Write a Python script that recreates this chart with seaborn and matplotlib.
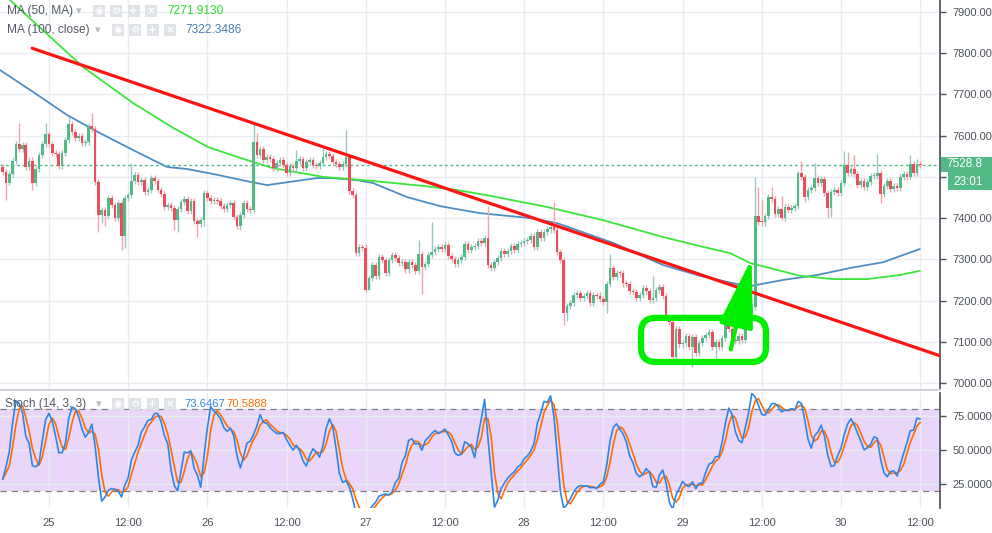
import numpy as np
import pandas as pd
import matplotlib
matplotlib.use("Agg")
import matplotlib.pyplot as plt
from matplotlib.patches import FancyBboxPatch, Rectangle
import seaborn as sns

# 30 min candles, 24th 17:00 -> 30th 11:30 (bar 0 = 24th 17:00)
first_open = 7524
closes = [
    7512, 7485, 7507, 7539, 7580, 7568, 7577, 7524, 7539, 7485,
    7519, 7553, 7580, 7604, 7580, 7558, 7555, 7526, 7558, 7589,
    7628, 7609, 7594, 7599, 7582, 7585, 7623, 7616, 7488, 7407,
    7420, 7405, 7449, 7432, 7400, 7437, 7357, 7449, 7456, 7490,
    7505, 7488, 7492, 7463, 7468, 7497, 7490, 7468, 7458, 7427,
    7432, 7424, 7395, 7422, 7439, 7446, 7417, 7441, 7393, 7386,
    7395, 7461, 7449, 7441, 7444, 7441, 7429, 7422, 7432, 7437,
    7403, 7381, 7407, 7437, 7422, 7420, 7585, 7553, 7568, 7541,
    7548, 7543, 7522, 7534, 7541, 7529, 7509, 7526, 7522, 7539,
    7543, 7522, 7536, 7541, 7529, 7526, 7534, 7548, 7555, 7551,
    7536, 7531, 7524, 7531, 7548, 7466, 7456, 7315, 7330, 7328,
    7226, 7255, 7286, 7260, 7306, 7298, 7267, 7298, 7310, 7303,
    7291, 7293, 7276, 7293, 7286, 7272, 7313, 7281, 7289, 7310,
    7318, 7325, 7330, 7325, 7335, 7308, 7301, 7289, 7298, 7306,
    7337, 7323, 7330, 7332, 7344, 7340, 7352, 7286, 7279, 7293,
    7303, 7320, 7313, 7320, 7332, 7323, 7337, 7340, 7344, 7347,
    7357, 7330, 7366, 7352, 7366, 7373, 7378, 7371, 7318, 7298,
    7170, 7187, 7194, 7213, 7218, 7206, 7211, 7218, 7194, 7213,
    7212, 7204, 7196, 7240, 7279, 7257, 7267, 7266, 7242, 7240,
    7223, 7221, 7206, 7213, 7230, 7223, 7201, 7206, 7226, 7233,
    7211, 7158, 7148, 7063, 7131, 7094, 7097, 7114, 7087, 7112,
    7073, 7097, 7109, 7116, 7124, 7087, 7099, 7087, 7109, 7146,
    7131, 7104, 7102, 7114, 7104, 7141, 7170, 7184, 7405, 7391,
    7390, 7405, 7451, 7446, 7410, 7422, 7400, 7427, 7420, 7424,
    7429, 7509, 7500, 7451, 7468, 7473, 7497, 7485, 7495, 7461,
    7424, 7463, 7468, 7461, 7485, 7529, 7509, 7519, 7507, 7480,
    7490, 7475, 7488, 7502, 7503, 7509, 7458, 7478, 7490, 7471,
    7478, 7473, 7500, 7507, 7500, 7531, 7509, 7531, 7528.8,
]
# long wicks that stand out (bar -> price)
wick_highs = {5: 7631, 13: 7631, 20: 7645, 27: 7655, 39: 7534, 76: 7631, 77: 7606,
              89: 7565, 97: 7570, 104: 7614, 126: 7347, 130: 7391, 147: 7430,
              167: 7440, 184: 7313, 197: 7260, 228: 7500, 229: 7475, 230: 7444,
              233: 7475, 236: 7454, 241: 7514, 242: 7539, 246: 7534, 255: 7563,
              256: 7560, 258: 7553, 265: 7555, 275: 7553, 277: 7543}
wick_lows = {1: 7444, 2: 7480, 9: 7468, 29: 7366, 30: 7388, 31: 7381, 36: 7323,
             37: 7328, 52: 7371, 53: 7366, 59: 7355, 61: 7380, 72: 7371, 110: 7221,
             111: 7235, 127: 7215, 170: 7141, 171: 7150, 183: 7170, 203: 7051,
             209: 7040, 216: 7052, 229: 7383, 236: 7395, 243: 7439, 250: 7400,
             251: 7403, 266: 7437}

ma50_bars = [2.2, 24.4, 39.5, 51.6, 62.3, 72, 81.9, 97.1, 112.2, 127.4, 137.7, 147.7,
             164.9, 181.9, 200.1, 211.3, 220.4, 226.5, 241.6, 251.6, 261.9, 271.9, 277.9]
ma50_vals = [7929, 7766, 7679, 7619, 7572, 7546, 7521, 7500, 7490, 7478, 7468, 7454,
             7427, 7395, 7354, 7332, 7315, 7291, 7260, 7252, 7252, 7262, 7272]
ma100_bars = [-0.8, 9.2, 19.5, 29.5, 39.5, 49.8, 55.9, 65, 74.9, 80.1, 87.1, 95.2, 100.1,
              107.4, 112.2, 122.5, 132.5, 144.6, 159.8, 167.9, 184.9, 200.1, 211.3,
              221.3, 226.5, 236.5, 246.8, 256.8, 266.8, 277.9]
ma100_vals = [7759, 7706, 7650, 7606, 7565, 7524, 7519, 7505, 7488, 7480, 7488, 7497, 7497,
              7492, 7485, 7451, 7429, 7412, 7400, 7388, 7340, 7286, 7260,
              7242, 7235, 7250, 7262, 7279, 7293, 7325]

trend_bars = [8.9, 284.0]
trend_vals = [7812, 7066]
box_bars = [193.4, 231.3]
box_vals = [7051, 7158]
arrow_from = (220.4, 7075)
arrow_to = (227.1, 7308)

day_ticks = [14, 38, 62, 86, 110, 134, 158, 182, 206, 230, 254, 278]
day_labels = ["25", "12:00", "26", "12:00", "27", "12:00", "28", "12:00",
              "29", "12:00", "30", "12:00"]
price_ticks = [7000, 7100, 7200, 7300, 7400, 7500, 7600, 7700, 7800, 7900]
hidden_price_tick = 7500  # sits under the last-price tag in the chart
stoch_ticks = [25, 50, 75]

last_price = "7528.8"
countdown = "23:01"
ma50_name, ma50_value = "MA (50, MA)", "7271.9130"
ma100_name, ma100_value = "MA (100, close)", "7322.3486"
stoch_name, stoch_k_value, stoch_d_value = "Stoch (14, 3, 3)", "73.6467", "70.5888"

# colours
up_col, dn_col = "#53b987", "#eb4d5c"
up_wick, dn_wick = "#9fc4c6", "#f2a3ab"
ma50_col, ma100_col = "#3be63b", "#4f8ec4"
k_col, d_col = "#2f86e6", "#ff6d00"
mark_col = "#00ee00"
txt_col = "#4c525e"

sns.set_theme(style="white")
plt.rcParams["font.family"] = ["Liberation Sans", "DejaVu Sans"]

W, H = 992, 533
fig = plt.figure(figsize=(W / 100, H / 100), dpi=100)
ax = fig.add_axes([0, 1 - 390 / H, 940 / W, 390 / H])
ax2 = fig.add_axes([0, 25 / H, 940 / W, 115 / H])


def fx(px):
    return px / W


def fy(py):
    return 1 - py / H


# candles
c = np.array(closes, dtype=float)
o = np.r_[first_open, c[:-1]]
bars = np.arange(len(c))
top = np.maximum(o, c)
bot = np.minimum(o, c)
wick_pad = 8
hi = top + wick_pad
lo = bot - wick_pad
for i, v in wick_highs.items():
    hi[i] = max(v, top[i])
for i, v in wick_lows.items():
    lo[i] = min(v, bot[i])
up = c >= o
body = np.maximum(top - bot, 2.5)

ax.vlines(bars[up], lo[up], hi[up], color=up_wick, lw=1.0, zorder=3)
ax.vlines(bars[~up], lo[~up], hi[~up], color=dn_wick, lw=1.0, zorder=3)
ax.bar(bars[up], body[up], bottom=bot[up], width=0.8, color=up_col, lw=0, zorder=4)
ax.bar(bars[~up], body[~up], bottom=bot[~up], width=0.8, color=dn_col, lw=0, zorder=4)

sns.lineplot(x=ma100_bars, y=ma100_vals, ax=ax, color=ma100_col, linewidth=1.3, zorder=2)
sns.lineplot(x=ma50_bars, y=ma50_vals, ax=ax, color=ma50_col, linewidth=1.3, zorder=2)
ax.axhline(float(last_price), color=up_col, lw=1, ls=(0, (2, 2)), zorder=2)
ax.plot(trend_bars, trend_vals, color="#ff1414", lw=2.3, zorder=5)

box = FancyBboxPatch((box_bars[0], box_vals[0]), box_bars[1] - box_bars[0],
                     box_vals[1] - box_vals[0],
                     boxstyle="round,pad=0,rounding_size=4.5", mutation_aspect=8,
                     fill=False, ec=mark_col, lw=4.5, zorder=6)
ax.add_patch(box)
ax.annotate("", xy=arrow_to, xytext=arrow_from,
            arrowprops=dict(arrowstyle="-|>,head_length=1.2,head_width=0.3",
                            mutation_scale=36, lw=3, color=mark_col), zorder=6)

ax.set_xlim(-0.82, 284.0)
ax.set_ylim(6983, 7929)
ax.set_xticks(day_ticks)
ax.set_xticklabels([])
ax.set_yticks(price_ticks)
ax.set_yticklabels(["" if v == hidden_price_tick else f"{v:.2f}" for v in price_ticks])
ax.yaxis.tick_right()
ax.grid(True, color="#e8edf1", lw=1)
ax.set_axisbelow(True)
ax.spines["top"].set_visible(False)
ax.spines["left"].set_visible(False)
ax.spines["right"].set_color("#50535e")
ax.spines["bottom"].set_color("#d1d4dc")
ax.spines["bottom"].set_linewidth(1.5)
ax.tick_params(axis="y", length=4, width=1, color="#50535e", labelsize=8,
               labelcolor=txt_col, pad=5)
ax.tick_params(axis="x", length=0)
ax.set_xlabel("")
ax.set_ylabel("")

# stochastic (14, 3, 3) from the candles
hh = pd.Series(hi).rolling(14, min_periods=1).max()
ll = pd.Series(lo).rolling(14, min_periods=1).min()
raw = 100 * (pd.Series(c) - ll) / (hh - ll)
k = raw.rolling(3, min_periods=1).mean()
d = k.rolling(3, min_periods=1).mean()

ax2.axhspan(20, 80, color="#ead6f8", zorder=0, lw=0)
ax2.axhline(80, color="#7b7e86", lw=0.9, ls=(0, (5, 4)), zorder=1)
ax2.axhline(20, color="#7b7e86", lw=0.9, ls=(0, (5, 4)), zorder=1)
sns.lineplot(x=bars, y=d.values, ax=ax2, color=d_col, linewidth=1.2, zorder=3)
sns.lineplot(x=bars, y=k.values, ax=ax2, color=k_col, linewidth=1.2, zorder=4)
ax2.set_xlim(-0.82, 284.0)
ax2.set_ylim(7.4, 91.9)
ax2.set_xticks(day_ticks)
ax2.set_xticklabels(day_labels)
ax2.set_yticks(stoch_ticks)
ax2.set_yticklabels([f"{v:.4f}" for v in stoch_ticks])
ax2.yaxis.tick_right()
ax2.grid(True, color="#e8edf1", lw=1)
ax2.set_axisbelow(True)
for s in ["top", "left", "bottom"]:
    ax2.spines[s].set_visible(False)
ax2.spines["right"].set_color("#50535e")
ax2.tick_params(axis="y", length=4, width=1, color="#50535e", labelsize=8,
                labelcolor=txt_col, pad=5)
ax2.tick_params(axis="x", length=0, labelsize=8, labelcolor=txt_col, pad=7)
ax2.set_xlabel("")
ax2.set_ylabel("")

# legends in TradingView style
icon_glyphs = ["◉", "⚙", "+", "×"]


def legend_row(x_text, yc, name, x_drop, x_icon, values, size=8.6):
    fig.text(fx(x_text), fy(yc), name, color="#555a64", size=8.6, va="center")
    fig.text(fx(x_drop), fy(yc), "▾", color="#b8bbc2", size=8, va="center",
             family="DejaVu Sans")
    for j, g in enumerate(icon_glyphs):
        x0 = x_icon + j * 17.3
        fig.add_artist(Rectangle((fx(x0), fy(yc + 6)), 12 / W, 12 / H,
                                 transform=fig.transFigure, fc="#dfe2e7", ec="none"))
        fig.text(fx(x0 + 6), fy(yc), g, color="white", ha="center", va="center",
                 size=7.5, family="DejaVu Sans", weight="bold")
    for xv, txt, col in values:
        fig.text(fx(xv), fy(yc), txt, color=col, size=size, va="center")


legend_row(7, 11, ma50_name, 76, 93, [(167, ma50_value, "#2fd82f")])
legend_row(7, 30, ma100_name, 95, 112, [(185, ma100_value, "#4a7fb0")])
legend_row(5, 404, stoch_name, 96, 112, [(184, stoch_k_value, k_col),
                                         (226, stoch_d_value, d_col)], size=8.1)

# last price and countdown tags on the price scale
fig.add_artist(Rectangle((fx(941), fy(172)), 51 / W, 15 / H,
                         transform=fig.transFigure, fc=up_col, ec="none", zorder=9))
fig.add_artist(Rectangle((fx(948), fy(190)), 44 / W, 18 / H,
                         transform=fig.transFigure, fc=up_col, ec="none", zorder=9))
fig.text(fx(946), fy(164.5), last_price, color="white", size=8.5, va="center", zorder=10)
fig.text(fx(953), fy(182), countdown, color="white", size=8.5, va="center", zorder=10)

fig.savefig("out.png", dpi=100, facecolor="white")
